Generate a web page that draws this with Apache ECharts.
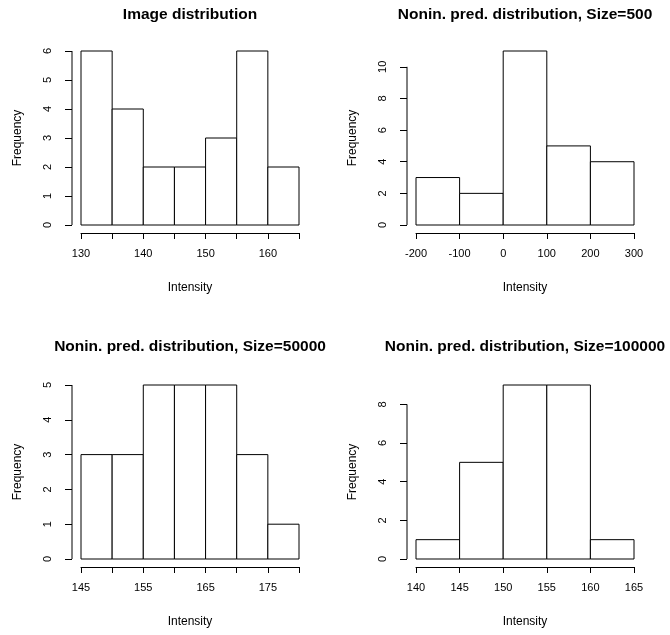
<!DOCTYPE html>
<html>
<head>
<meta charset="utf-8">
<script src="https://cdn.jsdelivr.net/npm/echarts@6/dist/echarts.min.js"></script>
<style>
html, body { margin: 0; padding: 0; background: #fff; }
#chart { width: 670px; height: 635px; }
</style>
</head>
<body>
<div id="chart"></div>
<script>
'use strict';

var titles = [
	'Image distribution',
	'Nonin. pred. distribution, Size=500',
	'Nonin. pred. distribution, Size=50000',
	'Nonin. pred. distribution, Size=100000'
];

// histogram breaks and counts, one set per panel
var breaks1 = [130, 135, 140, 145, 150, 155, 160, 165],
		counts1 = [6, 4, 2, 2, 3, 6, 2],
		xLabels1 = [130, 140, 150, 160],
		yTicks1 = [0, 1, 2, 3, 4, 5, 6];

var breaks2 = [-200, -100, 0, 100, 200, 300],
		counts2 = [3, 2, 11, 5, 4],
		xLabels2 = [-200, -100, 0, 100, 200, 300],
		yTicks2 = [0, 2, 4, 6, 8, 10];

var breaks3 = [145, 150, 155, 160, 165, 170, 175, 180],
		counts3 = [3, 3, 5, 5, 5, 3, 1],
		xLabels3 = [145, 155, 165, 175],
		yTicks3 = [0, 1, 2, 3, 4, 5];

var breaks4 = [140, 145, 150, 155, 160, 165],
		counts4 = [1, 5, 9, 9, 1],
		xLabels4 = [140, 145, 150, 155, 160, 165],
		yTicks4 = [0, 2, 4, 6, 8];

var panels = [
	{breaks: breaks1, counts: counts1, xLabels: xLabels1, yTicks: yTicks1},
	{breaks: breaks2, counts: counts2, xLabels: xLabels2, yTicks: yTicks2},
	{breaks: breaks3, counts: counts3, xLabels: xLabels3, yTicks: yTicks3},
	{breaks: breaks4, counts: counts4, xLabels: xLabels4, yTicks: yTicks4}
];

var font = 'Liberation Sans',
		gridLeft = [81, 416],
		gridTop = [51, 385],
		gridW = 218,
		gridH = 174,
		yOffset = 9;

function renderBar(params, api) {
	var p0 = api.coord([api.value(0), api.value(2)]),
			p1 = api.coord([api.value(1), 0]);
	return {
		type: 'rect',
		shape: {x: p0[0], y: p0[1], width: p1[0] - p0[0], height: p1[1] - p0[1]},
		style: {fill: '#fff', stroke: '#000', lineWidth: 1}
	};
}

// R draws the y axis line only from the first to the last tick
function renderAxisLine(params, api) {
	var a = api.coord([api.value(0), api.value(1)]),
			b = api.coord([api.value(0), api.value(2)]);
	return {
		type: 'line',
		shape: {x1: a[0] - yOffset, y1: a[1], x2: b[0] - yOffset, y2: b[1]},
		style: {stroke: '#000', lineWidth: 1}
	};
}

var option = {
	backgroundColor: '#fff',
	animation: false,
	title: [],
	grid: [],
	xAxis: [],
	yAxis: [],
	series: []
};

panels.forEach(function (p, i) {
	var col = i % 2,
			row = Math.floor(i / 2),
			n = p.breaks.length;

	option.title.push({
		text: titles[i],
		left: gridLeft[col] + gridW / 2,
		top: row === 0 ? 7 : 339,
		padding: 0,
		textAlign: 'center',
		textStyle: {fontFamily: font, fontSize: 15.5, fontWeight: 'bold', color: '#000'}
	});

	option.grid.push({
		left: gridLeft[col],
		top: gridTop[row],
		width: gridW,
		height: gridH
	});

	option.xAxis.push({
		type: 'value',
		gridIndex: i,
		min: p.breaks[0],
		max: p.breaks[n - 1],
		offset: 8,
		name: 'Intensity',
		nameLocation: 'middle',
		nameGap: 49,
		nameTextStyle: {fontFamily: font, fontSize: 12, color: '#000'},
		axisLine: {show: true, onZero: false, lineStyle: {color: '#000', width: 1}},
		axisTick: {show: true, length: 6, customValues: p.breaks, lineStyle: {color: '#000'}},
		axisLabel: {customValues: p.xLabels, margin: 15, fontFamily: font, fontSize: 11, color: '#000'},
		splitLine: {show: false}
	});

	option.yAxis.push({
		type: 'value',
		gridIndex: i,
		min: 0,
		max: Math.max.apply(null, p.counts),
		offset: yOffset,
		name: 'Frequency',
		nameLocation: 'middle',
		nameGap: 48,
		nameTextStyle: {fontFamily: font, fontSize: 12, color: '#000'},
		axisLine: {show: false, onZero: false},
		axisTick: {show: true, length: 7, customValues: p.yTicks, lineStyle: {color: '#000'}},
		axisLabel: {customValues: p.yTicks, rotate: 90, margin: 19, fontFamily: font, fontSize: 11, color: '#000'},
		splitLine: {show: false}
	});

	var bars = p.counts.map(function (c, k) {
		return [p.breaks[k], p.breaks[k + 1], c];
	});

	option.series.push({
		type: 'custom',
		xAxisIndex: i,
		yAxisIndex: i,
		renderItem: renderBar,
		encode: {x: [0, 1], y: 2},
		data: bars
	});

	option.series.push({
		type: 'custom',
		xAxisIndex: i,
		yAxisIndex: i,
		renderItem: renderAxisLine,
		clip: false,
		silent: true,
		data: [[p.breaks[0], p.yTicks[0], p.yTicks[p.yTicks.length - 1]]]
	});
});

var chart = echarts.init(document.getElementById('chart'));
chart.setOption(option);
</script>
</body>
</html>
